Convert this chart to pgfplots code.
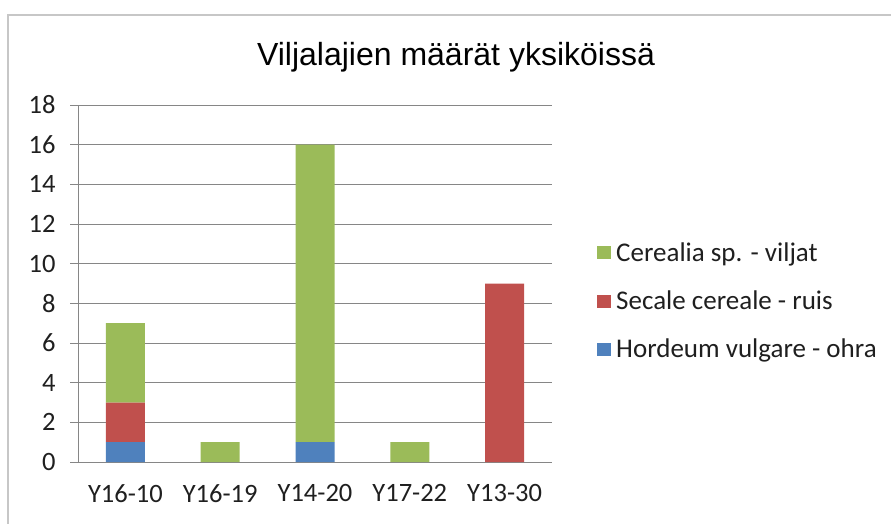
\documentclass[border=0pt]{standalone}
\usepackage{fontspec}
\setmainfont{Carlito}
\newfontfamily\arial{Liberation Sans}
\usepackage{pgfplots}
\pgfplotsset{compat=1.18}
\definecolor{cblue}{HTML}{4F81BD}
\definecolor{cred}{HTML}{C0504D}
\definecolor{cgreen}{HTML}{9BBB59}
\definecolor{gridc}{HTML}{868686}
\begin{document}
\begin{tikzpicture}
\path[use as bounding box] (0,0) rectangle (891pt,-523pt);
\draw[color=black!22, line width=1.5pt] (8pt,-540pt) -- (8pt,-15pt) -- (900pt,-15pt);
\node[font=\arial\fontsize{32}{38}\selectfont, anchor=base, inner sep=0pt] at (456pt,-65pt) {Viljalajien määrät yksiköissä};
\begin{axis}[
  at={(78pt,-462pt)}, anchor=south west,
  width=474pt, height=357pt, scale only axis,
  ybar stacked, bar width=39pt,
  xmin=-0.5, xmax=4.5, ymin=0, ymax=18,
  ytick={0,2,...,18},
  ymajorgrids, grid style={color=gridc, line width=0.8pt},
  axis x line*=bottom, axis y line*=left,
  axis line style={color=gridc, line width=0.8pt, -},
  xtick={0,1,2,3,4},
  xticklabels={Y16-10,Y16-19,Y14-20,Y17-22,Y13-30},
  x tick style={draw=none},
  extra x ticks={-0.5,0.5,1.5,2.5,3.5,4.5},
  extra x tick labels={},
  extra x tick style={grid=none, tick style={draw=gridc, line width=0.8pt}, tick align=outside, major tick length=8pt},
  y tick style={color=gridc, line width=0.8pt},
  tick align=outside, major tick length=8pt,
  /pgf/number format/assume math mode=true,
  tick label style={font=\fontsize{26.5}{30}\selectfont, color=black!88},
  xticklabel style={yshift=-11pt},
  yticklabel style={xshift=-11pt},
  legend style={at={(1.095,0.451)}, anchor=west, draw=none, inner sep=0pt,
    font=\fontsize{27}{31}\selectfont, row sep=24pt, text=black!88,
    nodes={inner xsep=5pt}},
  legend cell align=left,
  reverse legend,
  legend image code/.code={\fill[#1] (0pt,-6.5pt) rectangle (14pt,6.5pt);},
]
\addplot[fill=cblue, draw=none] coordinates {(0,1) (1,0) (2,1) (3,0) (4,0)};
\addplot[fill=cred, draw=none] coordinates {(0,2) (1,0) (2,0) (3,0) (4,9)};
\addplot[fill=cgreen, draw=none] coordinates {(0,4) (1,1) (2,15) (3,1) (4,0)};
\legend{Hordeum vulgare - ohra, Secale cereale - ruis, Cerealia sp. - viljat}
\end{axis}
\end{tikzpicture}
\end{document}
